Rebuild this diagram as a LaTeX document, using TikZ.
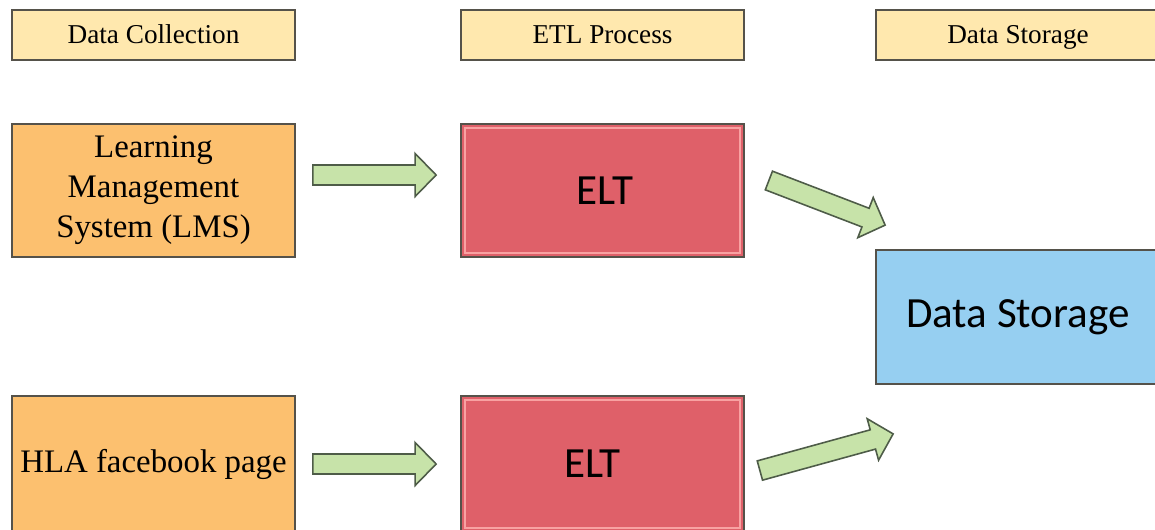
\documentclass[tikz,border=0pt]{standalone}
\usepackage{fontspec}
\setmainfont{Liberation Serif}
\newfontfamily\boxfont{Carlito}
\usetikzlibrary{calc}

\definecolor{headfill}{HTML}{FFE8AE}
\definecolor{sourcefill}{HTML}{FCC06F}
\definecolor{eltfill}{HTML}{DF6069}
\definecolor{eltrim}{HTML}{F8A2A2}
\definecolor{storefill}{HTML}{96CFF1}
\definecolor{arrowfill}{HTML}{C7E3A9}
\definecolor{arrowline}{HTML}{4E5C48}
\definecolor{boxline}{HTML}{55524A}

% fat green arrow: tail, tip, name
\newcommand{\blockarrow}[3]{%
  \coordinate (#3h) at ($(#2)!0.42cm!(#1)$);
  \draw[block arrow] ($(#1)!0.2cm!90:(#2)$) -- ($(#3h)!0.2cm!90:(#2)$)
    -- ($(#3h)!0.43cm!90:(#2)$) -- (#2) -- ($(#3h)!0.43cm!-90:(#2)$)
    -- ($(#3h)!0.2cm!-90:(#2)$) -- ($(#1)!0.2cm!-90:(#2)$) -- cycle;
}

\begin{document}
\begin{tikzpicture}[
    % Style definitions
    head box/.style={draw=boxline, line width=1pt, fill=headfill, minimum width=5.66cm, minimum height=1cm, text height=12pt, text depth=2pt, font=\fontsize{15.5}{18}\selectfont},
    source box/.style={draw=boxline, line width=1pt, fill=sourcefill, minimum width=5.66cm, minimum height=2.66cm, align=center, font=\fontsize{18.7}{22.8}\selectfont},
    elt box/.style={draw=boxline, line width=1pt, fill=eltfill, minimum width=5.66cm, minimum height=2.66cm, font=\boxfont\fontsize{24.5}{28}\selectfont,
        path picture={\draw[eltrim, line width=0.8pt] ([shift={(2.2pt,2.2pt)}]path picture bounding box.south west) rectangle ([shift={(-2.2pt,-2.2pt)}]path picture bounding box.north east);}},
    store box/.style={draw=boxline, line width=1pt, fill=storefill, minimum width=5.80cm, minimum height=2.68cm, font=\boxfont\fontsize{24.5}{28}\selectfont},
    block arrow/.style={draw=arrowline, line width=0.9pt, fill=arrowfill, line join=miter}
]

\useasboundingbox (0,0) rectangle (23.1,-10.58);

% ==========================================
% 1. COLUMN HEADERS
% ==========================================
\node[head box] (hdrcol) at (3.07,-0.70) {Data Collection};
\node[head box] (hdretl) at (12.05,-0.70) {ETL Process};
\node[head box, minimum width=5.80cm] (hdrsto) at (20.42,-0.70) {\hspace*{-0.12cm}Data Storage};

% ==========================================
% 2. SOURCES AND ELT BOXES
% ==========================================
\node[source box] (lms) at (3.07,-3.81) {Learning\\Management\\System (LMS)};
\node[source box, minimum height=2.72cm] (hla) at (3.07,-9.28) {HLA facebook page};

\node[elt box] (elt1) at (12.05,-3.81) {\hspace*{0.1cm}ELT};
\node[elt box, minimum height=2.72cm] (elt2) at (12.05,-9.28) {ELT\hspace*{0.4cm}};

% ==========================================
% 3. DATA STORAGE
% ==========================================
\node[store box] (store) at (20.42,-6.34) {Data Storage\hspace*{0.12cm}};

% ==========================================
% 4. ARROWS
% ==========================================
\coordinate (a1s) at ($(lms.east)+(0.34,0.31)$);
\coordinate (a1e) at ($(elt1.west)+(-0.48,0.31)$);
\coordinate (a2s) at ($(hla.east)+(0.34,0)$);
\coordinate (a2e) at ($(elt2.west)+(-0.48,0)$);
\coordinate (a3s) at ($(elt1.east)+(0.48,0.20)$);
\coordinate (a3e) at ($(store.north west)+(0.20,0.48)$);
\coordinate (a4s) at ($(elt2.east)+(0.30,-0.13)$);
\coordinate (a4e) at ($(store.south west)+(0.36,-0.98)$);

\blockarrow{a1s}{a1e}{a1}
\blockarrow{a2s}{a2e}{a2}
\blockarrow{a3s}{a3e}{a3}
\blockarrow{a4s}{a4e}{a4}

\end{tikzpicture}
\end{document}
